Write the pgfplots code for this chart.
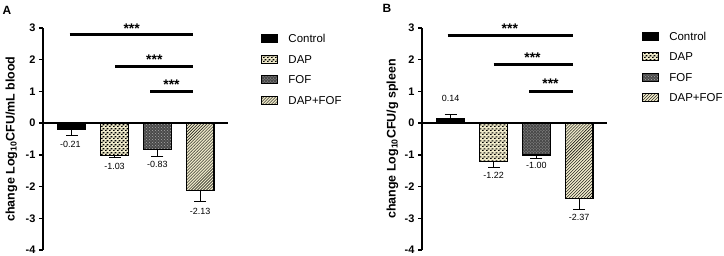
\documentclass[border=0pt]{standalone}
\usepackage{pgfplots}
\pgfplotsset{compat=1.18}
\usepackage{fontspec}
\setmainfont{Liberation Sans}
\usetikzlibrary{patterns}
\definecolor{cream}{HTML}{EDE8C8}
\definecolor{darkg}{HTML}{4A4A4A}
\definecolor{lightdot}{HTML}{A8A8A8}
\pgfdeclarepatternformonly{checks}{\pgfpointorigin}{\pgfqpoint{3.6bp}{3.6bp}}{\pgfqpoint{3.6bp}{3.6bp}}{%
  \pgfpathrectangle{\pgfpointorigin}{\pgfqpoint{1.8bp}{1.2bp}}%
  \pgfpathrectangle{\pgfqpoint{1.8bp}{1.8bp}}{\pgfqpoint{1.8bp}{1.2bp}}%
  \pgfusepath{fill}}

\pgfplotsset{
 panel/.style={
  scale only axis, width=185bp, height=222bp,
  xmin=-0.67, xmax=3.65, ymin=-4, ymax=3,
  axis x line=none, axis y line=left, axis line style={-, line width=1.3bp, black},
  ytick={-4,-3,-2,-1,0,1,2,3}, tick align=outside, major tick length=4bp,
  tick style={line width=1.3bp, black},
  yticklabel style={font=\fontsize{11}{13}\selectfont\bfseries},
  /pgf/number format/assume math mode=true,
  ybar, bar width=0.65, bar shift=0pt,
  clip=false,
  legend image code/.code={\draw[#1, line width=1bp] (0bp,-4bp) rectangle (16bp,4bp);},
  legend style={draw=none, fill=none, anchor=north west, inner sep=0pt,
    font=\fontsize{11.5}{13}\selectfont, row sep=11.5bp,
    nodes={text height=8.5bp, text depth=0bp, inner sep=0pt},
    /tikz/every odd column/.append style={column sep=10bp}},
  legend cell align=left,
  ylabel style={font=\fontsize{12.5}{14}\selectfont\bfseries, anchor=center},
 },
 eb/.style={error bars/y dir=#1, error bars/y explicit,
  error bars/error bar style={line width=0.8bp, black},
  error bars/error mark options={rotate=90, line width=0.8bp, black, mark size=6bp}},
 pctrl/.style={draw=black, line width=1.3bp, fill=black},
 pdap/.style={draw=black, line width=1.3bp, fill=cream, postaction={pattern=checks, pattern color=black}},
 pfof/.style={draw=black, line width=1.3bp, fill=darkg, postaction={pattern=crosshatch dots, pattern color=lightdot}},
 pboth/.style={draw=black, line width=1.3bp, fill=cream, postaction={pattern=north east lines, pattern color=black}},
}

\begin{document}
\begin{tikzpicture}
\useasboundingbox (0,0) rectangle (724bp,256bp);
\node[font=\fontsize{12}{14}\selectfont\bfseries] at (7bp,246bp) {A};
\node[font=\fontsize{12}{14}\selectfont\bfseries] at (387bp,248bp) {B};

% Panel A
\begin{axis}[panel, at={(43bp,6bp)}, anchor=south west,
  ylabel={change Log\textsubscript{10}CFU/mL blood},
  ylabel style={at={(axis description cs:-0.17,0.5)}},
  legend style={at={(axis description cs:1.18,0.973)}}]
\addplot[pctrl, eb=minus] coordinates {(0,-0.21) +- (0,0.19)};
\addlegendentry{Control}
\addplot[pdap, eb=minus] coordinates {(1,-1.03) +- (0,0.06)};
\addlegendentry{DAP}
\addplot[pfof, eb=minus] coordinates {(2,-0.83) +- (0,0.21)};
\addlegendentry{FOF}
\addplot[pboth, eb=minus] coordinates {(3,-2.13) +- (0,0.34)};
\addlegendentry{DAP+FOF}
\draw[line width=1.3bp] (axis cs:-0.67,0) -- (axis cs:3.65,0);
\draw[line width=3bp] (axis cs:-0.05,2.78) -- (axis cs:2.84,2.78);
\draw[line width=3bp] (axis cs:1.02,1.80) -- (axis cs:2.84,1.80);
\draw[line width=3bp] (axis cs:1.84,1.01) -- (axis cs:2.84,1.01);
\node[font=\fontsize{14}{15}\selectfont\bfseries] at (axis cs:1.40,2.98) {***};
\node[font=\fontsize{14}{15}\selectfont\bfseries] at (axis cs:1.93,2.01) {***};
\node[font=\fontsize{14}{15}\selectfont\bfseries] at (axis cs:2.33,1.22) {***};
\node[font=\fontsize{9}{10}\selectfont] at (axis cs:-0.03,-0.66) {-0.21};
\node[font=\fontsize{9}{10}\selectfont] at (axis cs:1.00,-1.36) {-1.03};
\node[font=\fontsize{9}{10}\selectfont] at (axis cs:2.00,-1.29) {-0.83};
\node[font=\fontsize{9}{10}\selectfont] at (axis cs:3.00,-2.78) {-2.13};
\end{axis}

% Panel B
\begin{axis}[panel, at={(422bp,6bp)}, anchor=south west,
  ylabel={change Log\textsubscript{10}CFU/g spleen},
  ylabel style={at={(axis description cs:-0.16,0.5)}},
  legend style={at={(axis description cs:1.19,0.985)}}]
\addplot[pctrl, eb=plus] coordinates {(0,0.14) +- (0,0.12)};
\addlegendentry{Control}
\addplot[pdap, eb=minus] coordinates {(1,-1.22) +- (0,0.17)};
\addlegendentry{DAP}
\addplot[pfof, eb=minus] coordinates {(2,-1.00) +- (0,0.10)};
\addlegendentry{FOF}
\addplot[pboth, eb=minus] coordinates {(3,-2.37) +- (0,0.35)};
\addlegendentry{DAP+FOF}
\draw[line width=1.3bp] (axis cs:-0.67,0) -- (axis cs:3.65,0);
\draw[line width=3bp] (axis cs:-0.07,2.77) -- (axis cs:2.86,2.77);
\draw[line width=3bp] (axis cs:1.00,1.85) -- (axis cs:2.86,1.85);
\draw[line width=3bp] (axis cs:1.83,1.01) -- (axis cs:2.86,1.01);
\node[font=\fontsize{14}{15}\selectfont\bfseries] at (axis cs:1.38,2.98) {***};
\node[font=\fontsize{14}{15}\selectfont\bfseries] at (axis cs:1.91,2.06) {***};
\node[font=\fontsize{14}{15}\selectfont\bfseries] at (axis cs:2.33,1.23) {***};
\node[font=\fontsize{9}{10}\selectfont] at (axis cs:0.00,0.78) {0.14};
\node[font=\fontsize{9}{10}\selectfont] at (axis cs:1.00,-1.65) {-1.22};
\node[font=\fontsize{9}{10}\selectfont] at (axis cs:2.00,-1.34) {-1.00};
\node[font=\fontsize{9}{10}\selectfont] at (axis cs:3.00,-2.98) {-2.37};
\end{axis}
\end{tikzpicture}
\end{document}
